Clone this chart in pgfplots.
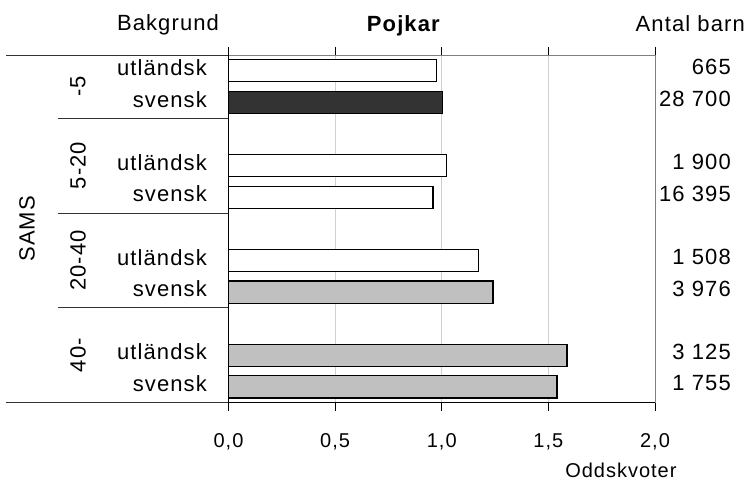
\documentclass[border=0pt]{standalone}
\usepackage{fontspec}
\setmainfont{Liberation Sans}[LetterSpace=5]
\usepackage{pgfplots}
\pgfplotsset{compat=1.18}
\definecolor{darkbar}{HTML}{333333}
\definecolor{graybar}{HTML}{C0C0C0}
\definecolor{gridgray}{HTML}{D0D0D0}
\definecolor{framegray}{HTML}{808080}
\newcommand{\fs}{\fontsize{22}{26}\selectfont}

\begin{document}
\begin{tikzpicture}
\path[use as bounding box] (-228.5pt,-78.3pt) rectangle (517.5pt,402.7pt);
\begin{axis}[
  at={(0pt,0pt)}, anchor=south west,
  scale only axis, width=426.5pt, height=347.7pt,
  xmin=0, xmax=2, ymin=0.5, ymax=11.5, y dir=reverse,
  clip=false, axis line style={draw=none},
  xtick={0,0.5,1,1.5,2}, ytick=\empty,
  tick align=outside, major tick length=8pt,
  xtick style={black, line width=0.8pt},
  xmajorgrids, grid style={gridgray, line width=0.8pt},
  xbar, bar width=0.7, bar shift=0pt,
  xticklabel style={font=\fontsize{20}{24}\selectfont, anchor=base, yshift=-36.3pt,
    /pgf/number format/.cd, fixed, fixed zerofill, precision=1, use comma, assume math mode=true},
]
% oddskvoter, positions 1..11 (3, 6, 9 empty)
\addplot[fill=white, draw=black, line width=1.2pt]
  coordinates {(0.977,1) (1.024,4) (0.959,5) (1.173,7)};
\addplot[fill=darkbar, draw=black, line width=1.2pt]
  coordinates {(1.004,2)};
\addplot[fill=graybar, draw=black, line width=1.2pt]
  coordinates {(1.240,8) (1.587,10) (1.540,11)};

% frame
\draw[framegray, line width=0.9pt] (axis cs:0,0.5) -- (axis cs:2,0.5) -- (axis cs:2,11.5);
\draw[black, line width=0.9pt] (axis cs:0,0.5) -- (axis cs:0,11.5) -- (axis cs:2,11.5);
% category lines
\draw[black!80, line width=0.8pt] (axis cs:0,0.5) -- ([xshift=-222.5pt]axis cs:0,0.5);
\draw[black!80, line width=0.8pt] (axis cs:0,11.5) -- ([xshift=-222.5pt]axis cs:0,11.5);
\draw[black!80, line width=0.8pt] (axis cs:0,2.5) -- ([xshift=-170.5pt]axis cs:0,2.5);
\draw[black!80, line width=0.8pt] (axis cs:0,5.5) -- ([xshift=-170.5pt]axis cs:0,5.5);
\draw[black!80, line width=0.8pt] (axis cs:0,8.5) -- ([xshift=-170.5pt]axis cs:0,8.5);

% category labels
\begin{scope}[every node/.style={font=\fs, inner sep=0pt, anchor=base east}]
\node at ([xshift=-21.5pt,yshift=-4.6pt]axis cs:0,1) {utländsk};
\node at ([xshift=-21.5pt,yshift=-4.6pt]axis cs:0,2) {svensk};
\node at ([xshift=-21.5pt,yshift=-4.6pt]axis cs:0,4) {utländsk};
\node at ([xshift=-21.5pt,yshift=-4.6pt]axis cs:0,5) {svensk};
\node at ([xshift=-21.5pt,yshift=-4.6pt]axis cs:0,7) {utländsk};
\node at ([xshift=-21.5pt,yshift=-4.6pt]axis cs:0,8) {svensk};
\node at ([xshift=-21.5pt,yshift=-4.6pt]axis cs:0,10) {utländsk};
\node at ([xshift=-21.5pt,yshift=-4.6pt]axis cs:0,11) {svensk};
% antal barn
\node at ([xshift=76pt,yshift=-4pt]axis cs:2,1) {665};
\node at ([xshift=76pt,yshift=-4pt]axis cs:2,2) {28 700};
\node at ([xshift=76pt,yshift=-4pt]axis cs:2,4) {1 900};
\node at ([xshift=76pt,yshift=-4pt]axis cs:2,5) {16 395};
\node at ([xshift=76pt,yshift=-4pt]axis cs:2,7) {1 508};
\node at ([xshift=76pt,yshift=-4pt]axis cs:2,8) {3 976};
\node at ([xshift=76pt,yshift=-4pt]axis cs:2,10) {3 125};
\node at ([xshift=76pt,yshift=-4pt]axis cs:2,11) {1 755};
\end{scope}

% SAMS groups
\begin{scope}[every node/.style={font=\fs, inner sep=0pt, rotate=90, anchor=center}]
\node at ([xshift=-150.5pt]axis cs:0,1.5) {-5};
\node at ([xshift=-150.5pt]axis cs:0,4) {5-20};
\node at ([xshift=-150.5pt]axis cs:0,7) {20-40};
\node at ([xshift=-150.5pt]axis cs:0,10) {40-};
\node at ([xshift=-201.5pt]axis cs:0,6) {SAMS};
\end{scope}

% headers
\node[font=\fs, inner sep=0pt, anchor=base] at ([xshift=-60.5pt,yshift=24pt]axis cs:0,0.5) {Bakgrund};
\node[font=\fs\bfseries, inner sep=0pt, anchor=base] at ([yshift=23.5pt]axis cs:0.82,0.5) {Pojkar};
\node[font=\fs, inner sep=0pt, anchor=base east] at ([xshift=90pt,yshift=23.5pt]axis cs:2,0.5) {Antal barn};
\node[font=\fontsize{20}{24}\selectfont, inner sep=0pt, anchor=base] at ([yshift=-75pt]axis cs:1.84,11.5) {Oddskvoter};
\end{axis}
\end{tikzpicture}
\end{document}
